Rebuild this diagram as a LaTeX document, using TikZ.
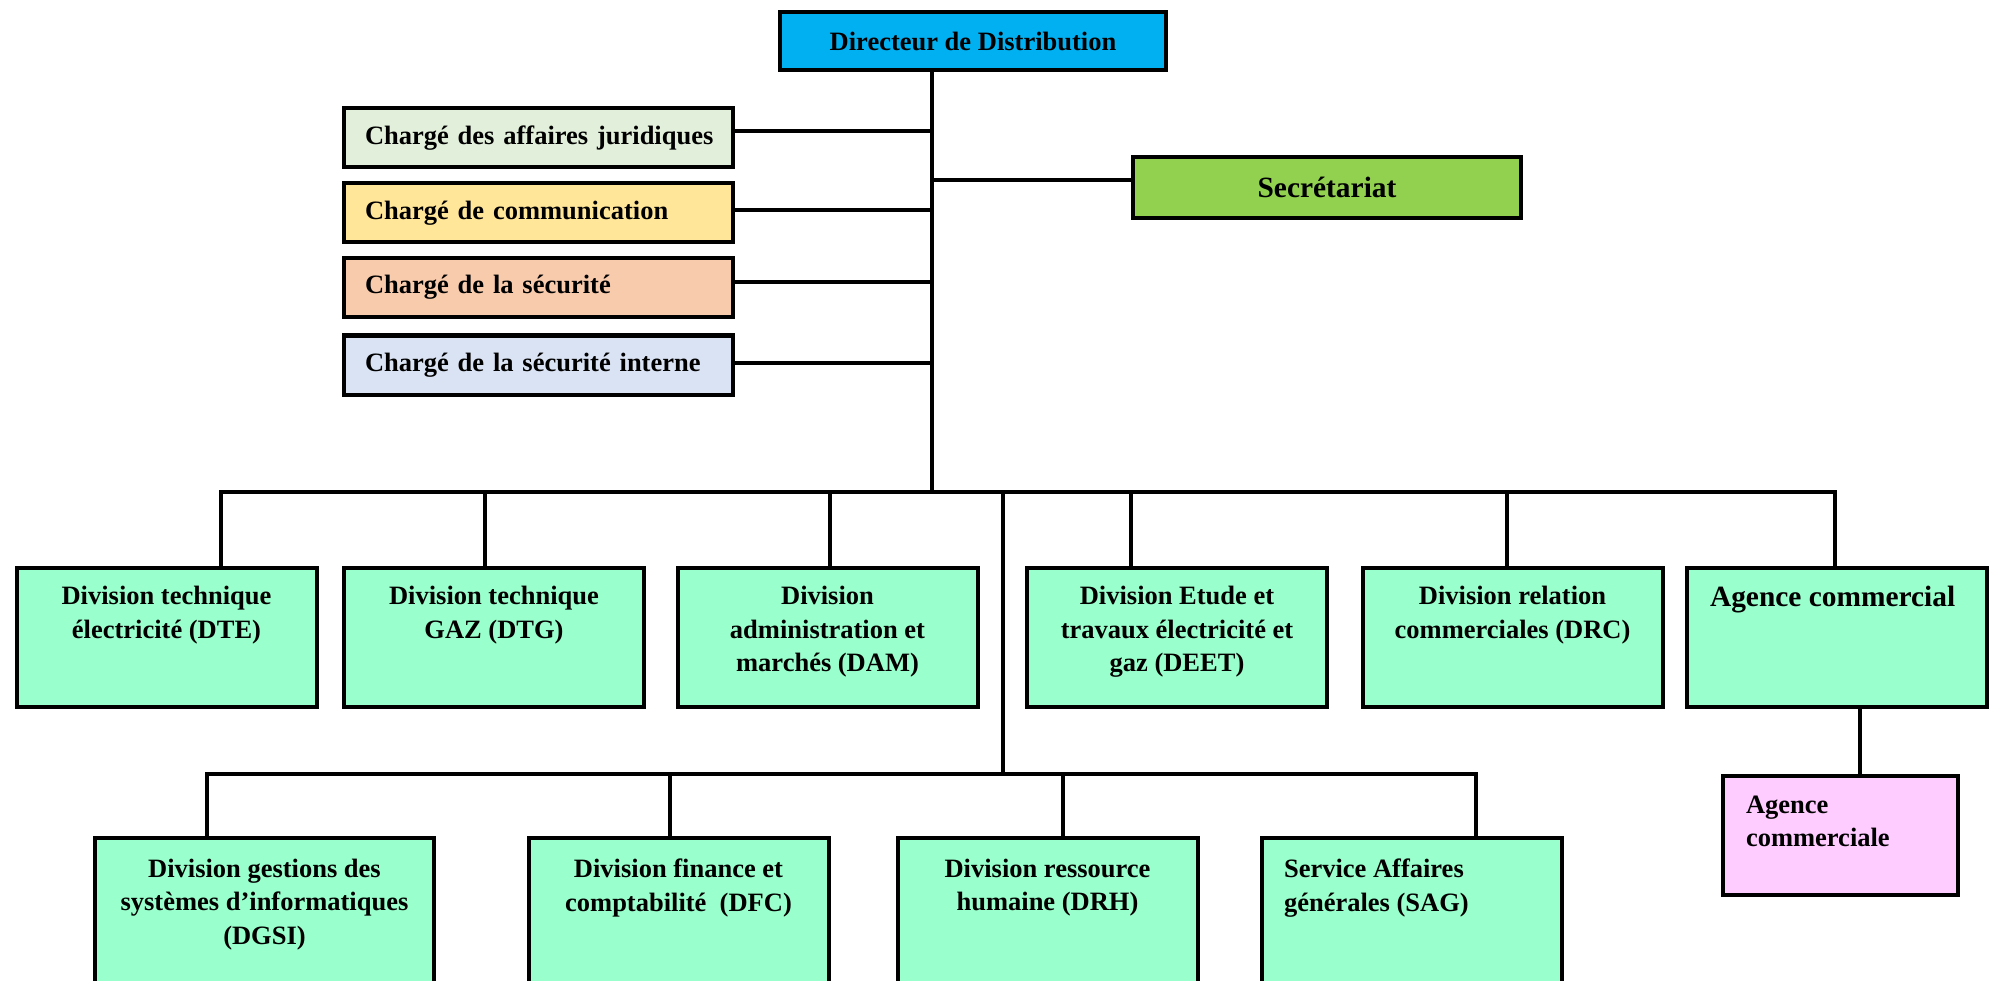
\documentclass[tikz,border=0pt]{standalone}
\usepackage{fontspec}
\setmainfont{Liberation Serif}
\usetikzlibrary{positioning}

\definecolor{dircol}{HTML}{00B0F0}
\definecolor{jurcol}{HTML}{E2EFDA}
\definecolor{comcol}{HTML}{FFE699}
\definecolor{secucol}{HTML}{F8CBAD}
\definecolor{intcol}{HTML}{DAE3F3}
\definecolor{secrcol}{HTML}{92D050}
\definecolor{divcol}{HTML}{99FFCC}
\definecolor{agcol}{HTML}{FFCCFF}

\begin{document}
\begin{tikzpicture}[x=1pt,y=-1pt,line width=4pt,
    box/.style={draw,inner sep=0pt,font=\bfseries\fontsize{26.5}{33.5}\selectfont},
    chbox/.style={box,text width=347pt,inner xsep=21pt,minimum height=59pt,align=left,
      execute at begin node=\hbox\bgroup,execute at end node=\egroup},
    divbox/.style={box,fill=divcol,minimum width=300pt,minimum height=139pt},
    divtext/.style={inner sep=0pt,anchor=north,align=center,font=\bfseries\fontsize{26.5}{33.5}\selectfont}]

\useasboundingbox (0,0) rectangle (1993,981);
\clip (0,0) rectangle (1993,981);

% top
\node[box,fill=dircol,minimum width=386pt,minimum height=58pt] (dir) at (973,41) {Directeur de Distribution};

\node[chbox,fill=jurcol] (jur) at (538.5,138) {Chargé des affaires juridiques};
\node[chbox,fill=comcol] (com) at (538.5,213) {Chargé de communication};
\node[chbox,fill=secucol] (secu) at (538.5,287.5) {Chargé de la sécurité};
\node[chbox,fill=intcol] (secint) at (538.5,365) {Chargé de la sécurité interne};

\node[box,fill=secrcol,minimum width=388pt,minimum height=61pt,
      font=\bfseries\fontsize{29.4}{35}\selectfont] (secr) at (1327,187.5) {Secrétariat};

% divisions
\node[divbox] (dte) at (166.5,637.5) {};
\node[divbox] (dtg) at (494,637.5) {};
\node[divbox] (dam) at (827.5,637.5) {};
\node[divbox] (deet) at (1177,637.5) {};
\node[divbox] (drc) at (1512.5,637.5) {};
\node[divbox] (agc) at (1837,637.5) {};

\node[divbox,minimum width=339pt,minimum height=160pt] (dgsi) at (264.5,918) {};
\node[divbox,minimum height=160pt] (dfc) at (678.5,918) {};
\node[divbox,minimum height=160pt] (drh) at (1047.5,918) {};
\node[divbox,minimum height=160pt] (sag) at (1412,918) {};

\node[box,fill=agcol,minimum width=235pt,minimum height=119pt] (agl) at (1840.5,835.5) {};

\node[divtext] (dte-t) at ([yshift=-18.5pt]dte.north) {Division technique\\électricité (DTE)};
\node[divtext] (dtg-t) at ([yshift=-18.5pt]dtg.north) {Division technique\\GAZ (DTG)};
\node[divtext] (dam-t) at ([yshift=-18.5pt]dam.north) {Division\\administration et\\marchés (DAM)};
\node[divtext] (deet-t) at ([yshift=-18.5pt]deet.north) {Division Etude et\\travaux électricité et\\gaz (DEET)};
\node[divtext] (drc-t) at ([yshift=-18.5pt]drc.north) {Division relation\\commerciales (DRC)};
\node[divtext,anchor=north west,font=\bfseries\fontsize{29.4}{35}\selectfont] (agc-t)
    at ([xshift=23pt,yshift=-18.5pt]agc.north west) {Agence commercial};

\node[divtext] (dgsi-t) at ([yshift=-21pt]dgsi.north) {Division gestions des\\systèmes d’informatiques\\(DGSI)};
\node[divtext] (dfc-t) at ([yshift=-21pt]dfc.north) {Division finance et\\comptabilité~ (DFC)};
\node[divtext] (drh-t) at ([yshift=-21pt]drh.north) {Division ressource\\humaine (DRH)};
\node[divtext,anchor=north west,align=left] (sag-t) at ([xshift=22pt,yshift=-21pt]sag.north west) {Service Affaires\\générales (SAG)};
\node[divtext,anchor=north west,align=left,font=\bfseries\fontsize{26.5}{33}\selectfont] (agl-t)
    at ([xshift=23pt,yshift=-20pt]agl.north west) {Agence\\commerciale};

% links
\coordinate (bar) at (932,492);
\coordinate (bar2) at (1003,774);

\draw (dir.south -| bar) -- (bar);
\foreach \n/\dy in {jur/7,com/3,secu/5.5,secint/2}
  \draw ([yshift=\dy pt]\n.east) -- ([yshift=\dy pt]\n.east -| bar);
\draw ([yshift=7.5pt]secr.west) -- ([yshift=7.5pt]secr.west -| bar);

\foreach \n/\dx in {dte/54.5,dtg/-9,dam/2.5,deet/-46,drc/-5.5,agc/-2}
  \draw ([xshift=\dx pt]\n.north) |- (bar);
\draw (bar2) -- (bar2 |- bar);
\foreach \n/\dx in {dgsi/-57.5,dfc/-8.5,drh/15.5,sag/64}
  \draw ([xshift=\dx pt]\n.north) |- (bar2);
\draw ([xshift=23pt]agc.south) -- ([xshift=23pt]agc.south |- agl.north);

\end{tikzpicture}
\end{document}
